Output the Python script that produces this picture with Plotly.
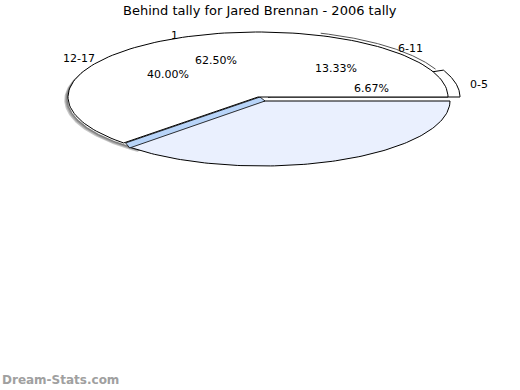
import numpy as np
import plotly.graph_objects as go

title = "Behind tally for Jared Brennan - 2006 tally"
# Pie A (the drawn top/bottom split)
pie_a_labels = ["1", ""]
pie_a_values = [62.50, 37.50]
# Pie B (overlaid slices)
pie_b_labels = ["0-5", "6-11", "12-17"]
pie_b_values = [6.67, 13.33, 40.00]

CX, CY, RX, RY = 260, 97, 190, 65


def arc(cx, cy, rx, ry, a0, a1, n=120):
    t = np.radians(np.linspace(a0, a1, n))
    return cx + rx * np.cos(t), cy - ry * np.sin(t)


def sector(cx, cy, rx, ry, a0, a1):
    x, y = arc(cx, cy, rx, ry, a0, a1)
    return np.r_[cx, x, cx], np.r_[cy, y, cy]


fig = go.Figure()

a_edges = np.r_[0, np.cumsum(pie_a_values)] * 3.6
b_edges = np.r_[0, np.cumsum(pie_b_values)] * 3.6

# shadow along the left edge
for off, col in [(5, "#c8c8c8"), (4, "#a0a0a0"), (3, "#808080")]:
    x, y = arc(CX - off, CY + off * 0.6, RX, RY, 150, 232)
    fig.add_trace(go.Scatter(x=x, y=y, mode="lines", line=dict(color=col, width=1.5),
                             hoverinfo="skip", showlegend=False))

# bottom (second slice of pie A), light blue, slightly lowered
x, y = sector(CX + 2, CY + 4, RX - 2, RY, a_edges[1], a_edges[2])
fig.add_trace(go.Scatter(x=x, y=y, mode="lines", fill="toself", fillcolor="#eaf0fe",
                         line=dict(color="black", width=1), hoverinfo="skip", showlegend=False))

# blue side face at the slice boundary
t = np.radians(a_edges[1])
ex, ey = CX + RX * np.cos(t), CY - RY * np.sin(t)
fx = [CX, ex, ex + 4, CX + 5, CX]
fy = [CY, ey, ey + 5, CY + 4, CY]
fig.add_trace(go.Scatter(x=fx, y=fy, mode="lines", fill="toself", fillcolor="#b8d4f8",
                         line=dict(color="black", width=0.8), hoverinfo="skip", showlegend=False))

# exploded first slice of pie B
x, y = sector(CX + 8, CY, RX + 2, RY + 1, b_edges[0], b_edges[1])
fig.add_trace(go.Scatter(x=x, y=y, mode="lines", fill="toself", fillcolor="white",
                         line=dict(color="black", width=1), hoverinfo="skip", showlegend=False))

# main white slice of pie A
x, y = sector(CX - 2, CY, RX, RY, a_edges[0], a_edges[1])
fig.add_trace(go.Scatter(x=x, y=y, mode="lines", fill="toself", fillcolor="white",
                         line=dict(color="black", width=1), hoverinfo="skip", showlegend=False))

# edge outline of second slice of pie B
x, y = arc(CX + 2, CY - 1, RX, RY + 1, b_edges[1], b_edges[2])
fig.add_trace(go.Scatter(x=x, y=y, mode="lines", line=dict(color="#555555", width=1),
                         hoverinfo="skip", showlegend=False))

font = dict(family="DejaVu Sans", size=11, color="black")
annotations = []


def add_labels(labels, values, edges):
    for i, (lab, v) in enumerate(zip(labels, values)):
        if not lab:
            continue
        mid = np.radians((edges[i] + edges[i + 1]) / 2)
        cx, cy = RX * np.cos(mid), RY * np.sin(mid)
        annotations.append(dict(x=CX + 0.6 * cx, y=CY - 0.6 * cy, text=f"{v:.2f}%",
                                showarrow=False, font=font, xanchor="center", yanchor="middle"))
        annotations.append(dict(x=CX + 1.18 * cx, y=CY - 1.05 * cy + 2, text=lab,
                                showarrow=False, font=font, xanchor="center", yanchor="middle"))


add_labels(pie_a_labels, pie_a_values, a_edges)
add_labels(pie_b_labels, pie_b_values, b_edges)

annotations.append(dict(x=0.5, y=1 - 10 / 390, xref="paper", yref="paper", text=title,
                        showarrow=False, font=font | dict(size=13),
                        xanchor="center", yanchor="middle"))
annotations.append(dict(x=0, y=1 - 380 / 390, xref="paper", yref="paper",
                        text="<b>Dream-Stats.com</b>", showarrow=False,
                        font=dict(family="DejaVu Sans", size=12, color="#a0a0a0"),
                        xanchor="left", yanchor="middle"))

fig.update_layout(
    width=520, height=390, margin=dict(l=0, r=0, t=0, b=0),
    paper_bgcolor="white", plot_bgcolor="white",
    xaxis=dict(range=[0, 520], visible=False, fixedrange=True),
    yaxis=dict(range=[390, 0], visible=False, fixedrange=True),
    annotations=annotations, showlegend=False,
)

fig.write_html("out.html", config={"displayModeBar": False},
               post_script="document.body.style.margin='0';")
